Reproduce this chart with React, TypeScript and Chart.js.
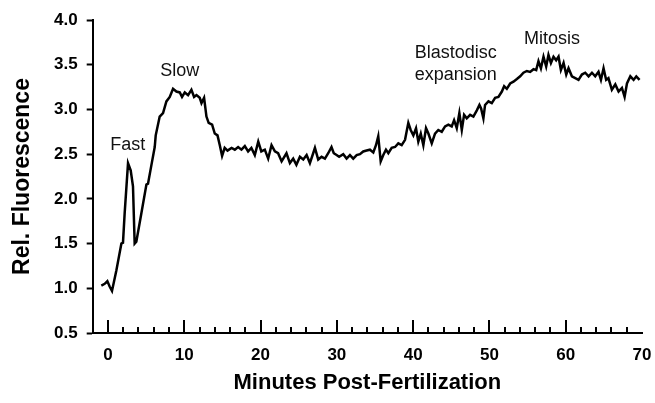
import React, { useEffect, useRef } from "react";
import { Chart, registerables } from "chart.js";

Chart.register(...registerables);

// Minutes post-fertilization
const times: number[] = [
  -0.87, -0.43, -0.08, 0.22, 0.53, 1.1, 1.76, 1.97, 2.19, 2.63, 2.98, 3.28, 3.5, 3.72, 4.38,
  5.04, 5.25, 5.7, 6.13, 6.26, 6.78, 7.22, 7.66, 8.1, 8.53, 8.97, 9.41, 9.71, 10.07, 10.5,
  10.94, 11.29, 11.6, 12.03, 12.26, 12.6, 12.91, 13.2, 13.65, 14.0, 14.36, 14.66, 14.96, 15.3,
  15.67, 16.2, 16.63, 17.06, 17.5, 17.94, 18.37, 18.8, 19.25, 19.7, 20.1, 20.56, 21.0, 21.44,
  21.88, 22.3, 22.76, 23.4, 23.85, 24.28, 24.7, 25.16, 25.6, 26.04, 26.47, 26.9, 27.13, 27.56,
  28.0, 28.44, 28.87, 29.3, 29.6, 29.97, 30.3, 30.84, 31.28, 31.72, 32.15, 32.6, 33.03, 33.46,
  33.9, 34.34, 34.78, 35.13, 35.43, 35.75, 36.09, 36.44, 36.75, 37.19, 37.63, 38.06, 38.5,
  38.94, 39.37, 39.68, 40.03, 40.38, 40.68, 41.0, 41.34, 41.69, 42.0, 42.44, 42.87, 43.3,
  43.75, 44.19, 44.62, 45.06, 45.37, 45.72, 46.06, 46.38, 46.68, 47.03, 47.47, 47.9, 48.35,
  48.69, 48.91, 49.21, 49.43, 49.87, 50.31, 50.75, 51.18, 51.63, 51.93, 52.28, 52.72, 53.15,
  53.6, 54.03, 54.46, 54.9, 55.34, 55.78, 56.13, 56.43, 56.75, 57.09, 57.44, 57.74, 58.06,
  58.4, 58.75, 59.06, 59.37, 59.72, 60.07, 60.37, 60.81, 61.25, 61.68, 62.12, 62.56, 63.0,
  63.44, 63.87, 64.3, 64.62, 64.96, 65.3, 65.6, 66.05, 66.5, 66.93, 67.37, 67.72, 68.03,
  68.47, 68.9, 69.25, 69.68,
];

// Relative fluorescence
const fluorescence: number[] = [
  1.03, 1.05, 1.08, 1.02, 0.97, 1.2, 1.5, 1.51, 1.84, 2.4, 2.32, 2.14, 1.5, 1.52, 1.84,
  2.16, 2.17, 2.38, 2.58, 2.71, 2.92, 2.96, 3.09, 3.14, 3.23, 3.2, 3.19, 3.14, 3.19, 3.16,
  3.22, 3.14, 3.16, 3.13, 3.07, 3.13, 2.92, 2.85, 2.83, 2.73, 2.71, 2.6, 2.48, 2.57,
  2.54, 2.57, 2.55, 2.58, 2.55, 2.59, 2.53, 2.57, 2.49, 2.64, 2.53, 2.55, 2.45, 2.6,
  2.53, 2.51, 2.42, 2.51, 2.4, 2.45, 2.38, 2.47, 2.44, 2.49, 2.4, 2.51, 2.57, 2.44,
  2.47, 2.45, 2.51, 2.58, 2.51, 2.49, 2.47, 2.5, 2.45, 2.49, 2.45, 2.49, 2.5, 2.53,
  2.54, 2.55, 2.52, 2.6, 2.7, 2.42, 2.49, 2.55, 2.51, 2.57, 2.58, 2.62, 2.6,
  2.66, 2.85, 2.77, 2.71, 2.79, 2.64, 2.73, 2.6, 2.79, 2.73, 2.62, 2.73, 2.77,
  2.75, 2.81, 2.83, 2.81, 2.88, 2.79, 2.96, 2.77, 2.94, 2.9, 2.94, 2.92, 2.99,
  3.05, 3.01, 2.9, 3.05, 3.09, 3.07, 3.13, 3.14, 3.2, 3.26, 3.23, 3.29, 3.31,
  3.34, 3.37, 3.41, 3.43, 3.42, 3.45, 3.44, 3.54, 3.46, 3.59, 3.48, 3.61, 3.52,
  3.59, 3.55, 3.59, 3.44, 3.52, 3.39, 3.46, 3.37, 3.35, 3.33, 3.39, 3.41, 3.37,
  3.41, 3.37, 3.42, 3.33, 3.46, 3.33, 3.35, 3.22, 3.28, 3.2, 3.24, 3.14, 3.29,
  3.37, 3.33, 3.37, 3.33,
];

const xMajorTicks: number[] = [0, 10, 20, 30, 40, 50, 60, 70];
const yTicks: number[] = [0.5, 1.0, 1.5, 2.0, 2.5, 3.0, 3.5, 4.0];

// Annotation texts and their anchor (data coordinates)
const annotationTexts: string[][] = [["Fast"], ["Slow"], ["Blastodisc", "expansion"], ["Mitosis"]];
const annotationX: number[] = [2.6, 9.4, 45.6, 58.2];
const annotationY: number[] = [2.6, 3.43, 3.51, 3.79];

const tickMarksPlugin = {
  id: "tickMarks",
  afterDraw(chart: any) {
    const ctx = chart.ctx;
    const xs = chart.scales.x;
    const bottom = chart.chartArea.bottom;
    ctx.save();
    ctx.strokeStyle = "#000";
    ctx.lineWidth = 2;
    for (let v = 0; v < 70; v += 2) {
      const px = Math.round(xs.getPixelForValue(v));
      const len = xMajorTicks.includes(v) ? 13 : 6;
      ctx.beginPath();
      ctx.moveTo(px, bottom);
      ctx.lineTo(px, bottom - len);
      ctx.stroke();
    }
    ctx.restore();
  },
};

const annotationPlugin = {
  id: "annotations",
  afterDatasetsDraw(chart: any) {
    const ctx = chart.ctx;
    const xs = chart.scales.x;
    const ys = chart.scales.y;
    ctx.save();
    ctx.fillStyle = "#111";
    ctx.font = "18px 'Liberation Sans', Arial, sans-serif";
    ctx.textAlign = "center";
    ctx.textBaseline = "middle";
    const lh = 22;
    annotationTexts.forEach((lines, i) => {
      const cx = xs.getPixelForValue(annotationX[i]);
      const cy = ys.getPixelForValue(annotationY[i]);
      const start = cy - ((lines.length - 1) * lh) / 2;
      lines.forEach((t, j) => ctx.fillText(t, cx, start + j * lh));
    });
    ctx.restore();
  },
};

export default function App() {
  const ref = useRef<HTMLCanvasElement | null>(null);
  useEffect(() => {
    if (!ref.current) return;
    const points = times.map((t, i) => ({ x: t, y: fluorescence[i] }));
    const chart = new Chart(ref.current, {
      type: "line",
      data: {
        datasets: [
          {
            data: points,
            borderColor: "#000",
            borderWidth: 2.5,
            pointRadius: 0,
            tension: 0,
            fill: false,
          },
        ],
      },
      options: {
        animation: false,
        responsive: false,
        maintainAspectRatio: false,
        layout: { padding: { top: 20, right: 0, left: 0, bottom: 0 } },
        plugins: { legend: { display: false }, tooltip: { enabled: false } },
        scales: {
          x: {
            type: "linear",
            min: -2,
            max: 70,
            afterFit: (s: any) => {
              s.height = 70;
              s.paddingLeft = 0;
              s.paddingRight = 13;
            },
            afterBuildTicks: (s: any) => {
              const vals: number[] = [];
              for (let v = -2; v <= 70; v += 2) vals.push(v);
              s.ticks = vals.map((v) => ({ value: v }));
            },
            ticks: {
              autoSkip: false,
              maxRotation: 0,
              padding: 12,
              color: "#000",
              font: { family: "'Liberation Sans', Arial, sans-serif", size: 17, weight: "bold" },
              callback: (v: any) => (xMajorTicks.includes(Number(v)) ? String(v) : ""),
            },
            grid: { display: true, drawOnChartArea: false, drawTicks: false, color: "rgba(0,0,0,0)" },
            border: { display: true, color: "#000", width: 2 },
            title: {
              display: true,
              text: "Minutes Post-Fertilization",
              color: "#000",
              font: { family: "'Liberation Sans', Arial, sans-serif", size: 22, weight: "bold" },
              padding: { top: 0, bottom: 7 },
            },
          },
          y: {
            type: "linear",
            min: 0.5,
            max: 4.0,
            afterFit: (s: any) => {
              s.width = 92.7;
            },
            afterBuildTicks: (s: any) => {
              s.ticks = yTicks.map((v) => ({ value: v }));
            },
            ticks: {
              padding: 9,
              color: "#000",
              font: { family: "'Liberation Sans', Arial, sans-serif", size: 17, weight: "bold" },
              callback: (v: any) => Number(v).toFixed(1),
            },
            grid: { display: true, drawOnChartArea: false, drawTicks: true, tickLength: 6, tickWidth: 2, color: "#000" },
            border: { display: true, color: "#000", width: 2 },
            title: {
              display: true,
              text: "Rel. Fluorescence",
              color: "#000",
              font: { family: "'Liberation Sans', Arial, sans-serif", size: 23, weight: "bold" },
              padding: { top: 9, bottom: 0 },
            },
          },
        },
      },
      plugins: [tickMarksPlugin, annotationPlugin],
    });
    return () => chart.destroy();
  }, []);
  return (
    <div style={{ position: "absolute", left: 0, top: 0, width: 655, height: 403, background: "#fff" }}>
      <canvas ref={ref} width={655} height={403} style={{ display: "block" }} />
    </div>
  );
}
